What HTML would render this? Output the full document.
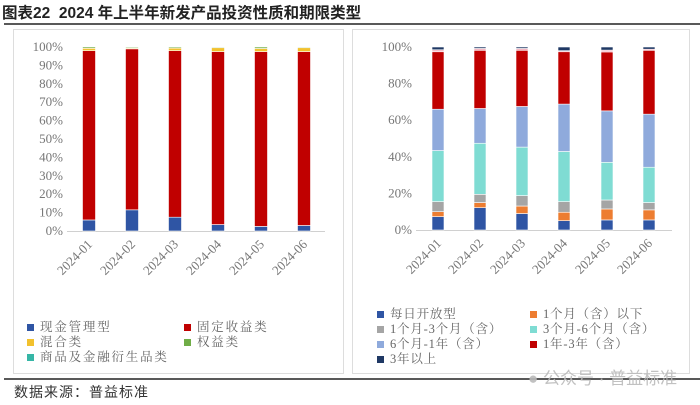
<!DOCTYPE html>
<html><head><meta charset="utf-8"><style>
body{margin:0;background:#fff;width:700px;height:405px;overflow:hidden}
svg{display:block}
.t{font-family:"Liberation Serif","Noto Serif CJK SC",serif;fill:#777;font-size:13px}
.l{font-family:"Liberation Serif","Noto Serif CJK SC",serif;fill:#666;font-size:12.5px}
</style></head><body>
<svg width="700" height="405" xmlns="http://www.w3.org/2000/svg">
<text x="2" y="18" font-family="Liberation Sans,Noto Sans CJK SC,sans-serif" font-size="15.5" font-weight="bold" fill="#222" xml:space="preserve">图表22  2024 年上半年新发产品投资性质和期限类型</text>
<line x1="4" y1="24" x2="700" y2="24" stroke="#222" stroke-width="1.5"/>
<rect x="13.5" y="29.5" width="330" height="344" fill="#fff" stroke="#ddd"/>
<rect x="352.5" y="29.5" width="337" height="344" fill="#fff" stroke="#ddd"/>
<line x1="4" y1="379" x2="700" y2="379" stroke="#222" stroke-width="1.5"/>
<text x="14" y="397" font-family="Liberation Sans,Noto Sans CJK SC,sans-serif" font-size="14" fill="#333" letter-spacing="1">数据来源：普益标准</text>
<g id="L"></g><g id="R"></g>
<text x="528" y="384" font-family="Liberation Sans,Noto Sans CJK SC,sans-serif" font-size="17" fill="#bbb" opacity="0.9">● 公众号 · 普益标准</text>
</svg>
<script>
const ns="http://www.w3.org/2000/svg";
function el(p,tag,a,txt){const e=document.createElementNS(ns,tag);for(const k in a)e.setAttribute(k,a[k]);if(txt)e.textContent=txt;p.appendChild(e);return e;}
function chart(g,x0,x1,y0,y100,step,centers,w,data,cols){
  const sc=(y0-y100)/100;
  for(let v=0;v<=100;v+=step){el(g,'text',{x:x0-4,y:y0-v*sc+4,'text-anchor':'end',class:'t'},v+'%');}
  el(g,'line',{x1:x0,y1:y0+0.5,x2:x1,y2:y0+0.5,stroke:'#d0d0d0'});
  centers.forEach((c,i)=>{let prev=0;data[i].forEach((v,j)=>{el(g,'rect',{x:c-w/2,y:y0-v*sc,width:w,height:(v-prev)*sc,fill:cols[j],stroke:'#fff','stroke-width':0.6});prev=v;});
    el(g,'text',{x:c+4,y:y0+14,'text-anchor':'end',class:'t',transform:`rotate(-45 ${c+4} ${y0+14})`},'2024-0'+(i+1));});
}
const L=document.getElementById('L'),R=document.getElementById('R');
chart(L,67,325,231,47,10,[89,132,175,218,261,304],13,
 [[6,98,99.3,100],[11.5,99,99.5,100],[7.5,98,99.4,100],[3.5,97.5,99.6,100],[2.5,97.5,99.2,100],[3,97.5,99.6,100]],
 ['#2f55a4','#c00000','#f2c12e','#70ad47']);
chart(R,416,672,230,47,20,[438,480,522,564,607,649],12,
 [[7.3,10,15.5,43.4,66,97.4,98.5,100],[12.2,15,19.5,47.4,66.4,98.2,99.2,100],[9,13.1,18.8,45.3,67.5,98.2,99.2,100],[5.1,9.7,15.5,42.9,68.8,97.4,98,100],[5.5,11.5,16.4,37,65.1,97.3,98.3,100],[5.5,11,15,34.3,63.3,98.2,98.8,100]],
 ['#2f55a4','#ed7d31','#a5a5a5','#7fdcd3','#8faadc','#c00000','#f4b6c2','#1f3864']);
function leg(g,items,ls){items.forEach(([x,y,c,t])=>{el(g,'rect',{x:x,y:y,width:7,height:7,fill:c});el(g,'text',{x:x+13,y:y+7,class:'l','letter-spacing':ls},t);});}
leg(L,[[27,324,'#2f55a4','现金管理型'],[184,324,'#c00000','固定收益类'],[27,339,'#f2c12e','混合类'],[184,339,'#70ad47','权益类'],[27,354,'#36b6a6','商品及金融衍生品类']],1.8);
leg(R,[[377,311,'#2f55a4','每日开放型'],[530,311,'#ed7d31','1个月（含）以下'],[377,326,'#a5a5a5','1个月-3个月（含）'],[530,326,'#7fdcd3','3个月-6个月（含）'],[377,341,'#8faadc','6个月-1年（含）'],[530,341,'#c00000','1年-3年（含）'],[377,356,'#1f3864','3年以上']],0.8);
</script>
</body></html>
